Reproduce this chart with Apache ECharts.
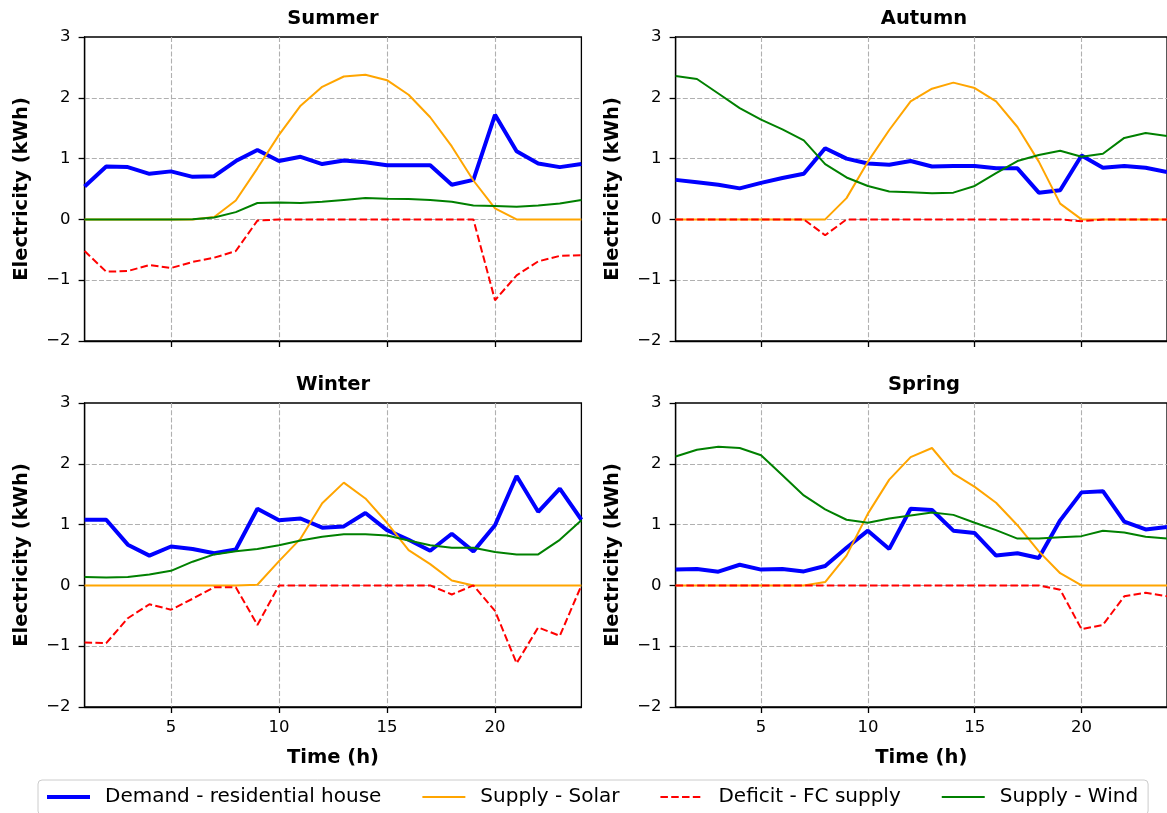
<!DOCTYPE html>
<html>
<head>
<meta charset="utf-8">
<script src="https://cdn.jsdelivr.net/npm/echarts@6/dist/echarts.min.js"></script>
<style>
html,body{margin:0;padding:0;background:#fff;}
#c{width:1167px;height:813px;}
</style>
</head>
<body>
<div id="c"></div>
<script>
// ---- data ----
const hours = [1,2,3,4,5,6,7,8,9,10,11,12,13,14,15,16,17,18,19,20,21,22,23,24];
const xTicks = [5,10,15,20];
const yTicks = [-2,-1,0,1,2,3];

const seasonNames = ['Summer','Autumn','Winter','Spring'];
const seriesNames = ['Demand - residential house','Supply - Solar','Deficit - FC supply','Supply - Wind'];

const summerDemand  = [0.54,0.87,0.86,0.75,0.79,0.70,0.71,0.96,1.14,0.96,1.03,0.91,0.97,0.94,0.89,0.89,0.89,0.57,0.65,1.72,1.12,0.92,0.86,0.91];
const summerSolar   = [0,0,0,0,0,0,0.04,0.31,0.84,1.39,1.87,2.18,2.35,2.38,2.29,2.05,1.68,1.20,0.64,0.18,0,0,0,0];
const summerDeficit = [-0.52,-0.86,-0.85,-0.75,-0.80,-0.70,-0.63,-0.52,-0.02,0,0,0,0,0,0,0,0,0,0,-1.33,-0.92,-0.69,-0.60,-0.59];
const summerWind    = [0,0,0,0,0,0.003,0.03,0.12,0.27,0.28,0.27,0.29,0.32,0.35,0.34,0.335,0.32,0.29,0.23,0.22,0.21,0.23,0.26,0.32];

const autumnDemand  = [0.65,0.61,0.57,0.51,0.60,0.68,0.75,1.17,1.00,0.92,0.90,0.96,0.87,0.88,0.88,0.84,0.84,0.44,0.48,1.05,0.85,0.88,0.85,0.78];
const autumnSolar   = [0,0,0,0,0,0,0,0,0.35,0.95,1.47,1.94,2.15,2.25,2.16,1.94,1.52,0.95,0.26,0,0,0,0,0];
const autumnDeficit = [0,0,0,0,0,0,0,-0.26,0,0,0,0,0,0,0,0,0,0,0,-0.03,0,0,0,0];
const autumnWind    = [2.36,2.31,2.07,1.83,1.64,1.48,1.30,0.91,0.69,0.55,0.46,0.445,0.43,0.44,0.55,0.76,0.96,1.06,1.13,1.03,1.08,1.34,1.42,1.37];

const winterDemand  = [1.08,1.08,0.67,0.49,0.64,0.60,0.53,0.59,1.26,1.07,1.10,0.95,0.97,1.19,0.91,0.75,0.57,0.85,0.56,0.99,1.80,1.21,1.59,1.08];
const winterSolar   = [0,0,0,0,0,0,0,0,0.01,0.40,0.77,1.35,1.69,1.43,1.03,0.58,0.35,0.08,0,0,0,0,0,0];
const winterDeficit = [-0.94,-0.95,-0.54,-0.31,-0.40,-0.22,-0.03,-0.03,-0.65,0,0,0,0,0,0,0,0,-0.15,0,-0.42,-1.28,-0.69,-0.83,0];
const winterWind    = [0.14,0.13,0.14,0.18,0.24,0.39,0.51,0.56,0.60,0.66,0.74,0.80,0.84,0.84,0.82,0.74,0.66,0.62,0.62,0.55,0.51,0.51,0.75,1.07];

const springDemand  = [0.26,0.27,0.225,0.34,0.26,0.27,0.23,0.32,0.62,0.90,0.60,1.26,1.24,0.90,0.86,0.49,0.53,0.45,1.07,1.53,1.55,1.05,0.92,0.96];
const springSolar   = [0,0,0,0,0,0,0,0.055,0.49,1.18,1.74,2.11,2.26,1.84,1.62,1.36,0.99,0.56,0.20,0,0,0,0,0];
const springDeficit = [0,0,0,0,0,0,0,0,0,0,0,0,0,0,0,0,0,0,-0.07,-0.72,-0.65,-0.18,-0.12,-0.18];
const springWind    = [2.12,2.23,2.28,2.26,2.14,1.81,1.48,1.25,1.08,1.03,1.10,1.15,1.20,1.16,1.03,0.91,0.77,0.77,0.79,0.81,0.90,0.87,0.80,0.77];

// ---- build ----
const panels = [
  [summerDemand, summerSolar, summerDeficit, summerWind],
  [autumnDemand, autumnSolar, autumnDeficit, autumnWind],
  [winterDemand, winterSolar, winterDeficit, winterWind],
  [springDemand, springSolar, springDeficit, springWind]
];
const FONT = '"DejaVu Sans", sans-serif';
const lineStyles = [
  {color:'#0000ff', width:4, type:'solid'},
  {color:'#ffa500', width:2, type:'solid'},
  {color:'#ff0000', width:2, type:[7.5,3.3]},
  {color:'#008000', width:2, type:'solid'}
];
const gridPos = [
  {left:84.6, top:37},
  {left:675.6, top:37},
  {left:84.6, top:403},
  {left:675.6, top:403}
];
const PW = 496.8, PH = 304;

const grids = gridPos.map(p => ({
  left:p.left, top:p.top, width:PW, height:PH,
  show:true, borderColor:'#000', borderWidth:1.3, backgroundColor:'transparent'
}));

const minusFmt = v => (v < 0 ? '\u2212' + Math.abs(v) : String(v));
const gridLineStyle = {color:'#b0b0b0', width:1.1, type:[5,2.2]};

const xAxes = gridPos.map((p,i) => ({
  type:'value', gridIndex:i, min:1, max:24,
  axisLine:{show:true, onZero:false, lineStyle:{color:'#000', width:1.3}},
  axisTick:{show:true, inside:false, length:6, customValues:xTicks, lineStyle:{color:'#000', width:1.3}},
  axisLabel:{show:i>=2, customValues:xTicks, margin:12, fontSize:16.5, color:'#000', fontFamily:FONT},
  splitLine:{show:true, showMinLine:true, showMaxLine:true, lineStyle:gridLineStyle},
  name: i>=2 ? 'Time (h)' : '',
  nameLocation:'middle', nameGap:41,
  nameTextStyle:{fontSize:19.5, fontWeight:'bold', color:'#000', fontFamily:FONT}
}));

const yAxes = gridPos.map((p,i) => ({
  type:'value', gridIndex:i, min:-2, max:3, interval:1,
  axisLine:{show:true, onZero:false, lineStyle:{color:'#000', width:1.3}},
  axisTick:{show:true, inside:false, length:6, lineStyle:{color:'#000', width:1.3}},
  axisLabel:{show:true, margin:14, fontSize:16.5, color:'#000', fontFamily:FONT, formatter:minusFmt},
  splitLine:{show:true, showMinLine:false, showMaxLine:false, lineStyle:gridLineStyle},
  name:'Electricity (kWh)', nameLocation:'middle', nameGap:53, nameRotate:90,
  nameTextStyle:{fontSize:19.5, fontWeight:'bold', color:'#000', fontFamily:FONT}
}));

const series = [];
panels.forEach((arrs, i) => {
  arrs.forEach((vals, k) => {
    series.push({
      type:'line', name:seriesNames[k], xAxisIndex:i, yAxisIndex:i,
      data: hours.map((h, j) => [h, vals[j]]),
      symbol:'none', showSymbol:false, smooth:false, clip:true,
      lineStyle: lineStyles[k],
      itemStyle:{color: lineStyles[k].color},
      z: 2 + k, animation:false
    });
  });
});

const titles = gridPos.map((p,i) => ({
  type:'text', x: p.left + PW/2, y: p.top - 18.5,
  style:{text:seasonNames[i], font:'bold 19.5px ' + FONT, fill:'#000', align:'center', verticalAlign:'middle'}
}));

const legendData = seriesNames.map((n, k) => ({
  name:n,
  lineStyle:{width: lineStyles[k].width, type: lineStyles[k].type, color: lineStyles[k].color},
  itemStyle:{color:'rgba(0,0,0,0)', borderColor:'rgba(0,0,0,0)', borderWidth:0, opacity:0}
}));

const chart = echarts.init(document.getElementById('c'), null, {renderer:'canvas'});
chart.setOption({
  animation:false,
  backgroundColor:'#ffffff',
  grid:grids,
  xAxis:xAxes,
  yAxis:yAxes,
  series:series,
  graphic:titles,
  legend:{
    data:legendData, top:780, left:38, orient:'horizontal',
    itemWidth:43, itemHeight:14, itemGap:40,
    padding:[7,10,8,7],
    borderColor:'#cccccc', borderWidth:1, borderRadius:4, backgroundColor:'#ffffff',
    itemStyle:{color:'rgba(0,0,0,0)', borderColor:'rgba(0,0,0,0)', borderWidth:0, opacity:0},
    textStyle:{fontSize:20, color:'#000', fontFamily:FONT, padding:[0,0,0,10]}
  }
});
</script>
</body>
</html>
